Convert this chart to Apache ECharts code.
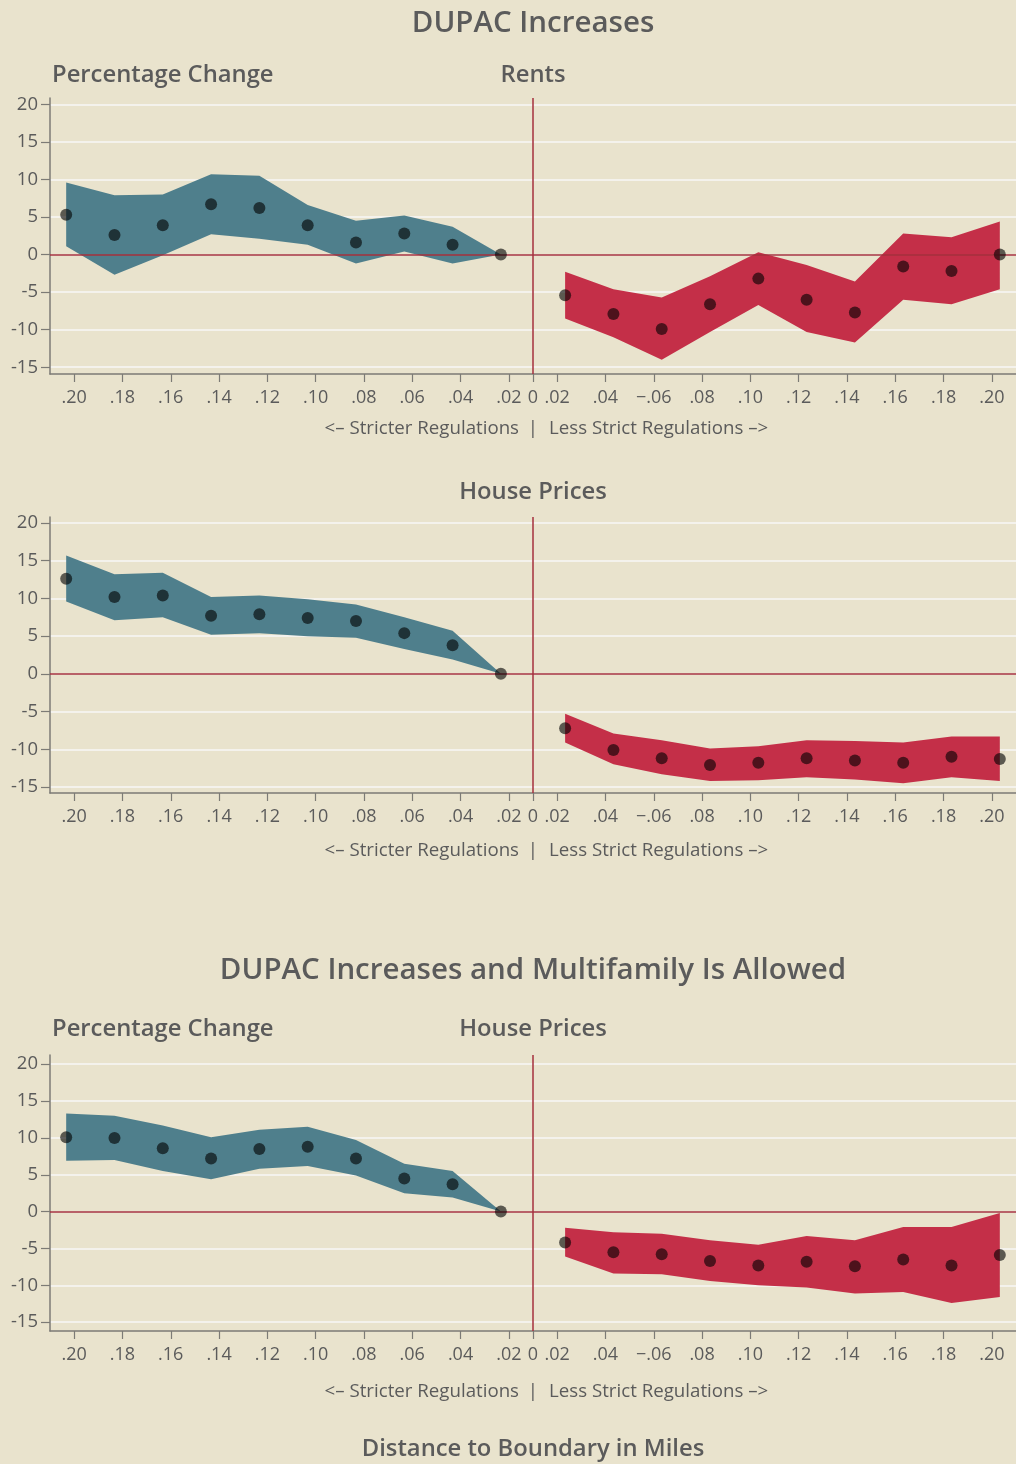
<!DOCTYPE html>
<html>
<head>
<meta charset="utf-8">
<title>DUPAC Increases</title>
<script src="https://cdn.jsdelivr.net/npm/echarts@6/dist/echarts.min.js"></script>
<style>
    html, body { margin: 0; padding: 0; background: #e9e3cd; }
    #chart { width: 1016px; height: 1464px; }
</style>
</head>
<body>
<div id="chart"></div>
<script>
// distance to the boundary (miles), left side = stricter regulations
var leftDist = [-0.1933, -0.1733, -0.1533, -0.1333, -0.1133, -0.0933, -0.0733, -0.0533, -0.0333, -0.0133];
var rightDist = [0.0133, 0.0333, 0.0533, 0.0733, 0.0933, 0.1133, 0.1333, 0.1533, 0.1733, 0.1933];

// x tick positions and their labels
var xTickPos = [-0.19, -0.17, -0.15, -0.13, -0.11, -0.09, -0.07, -0.05, -0.03, -0.01, 0,
    0.01, 0.03, 0.05, 0.07, 0.09, 0.11, 0.13, 0.15, 0.17, 0.19];
var xTickLabels = ['.20', '.18', '.16', '.14', '.12', '.10', '.08', '.06', '.04', '.02', '0',
    '.02', '.04', '\u2212.06', '.08', '.10', '.12', '.14', '.16', '.18', '.20'];
var yTicks = [-15, -10, -5, 0, 5, 10, 15, 20];

// DUPAC increases - rents
var rentsLeftMid = [5.3, 2.6, 3.9, 6.7, 6.2, 3.9, 1.6, 2.8, 1.3, 0];
var rentsLeftHi = [9.6, 7.9, 8.0, 10.7, 10.5, 6.6, 4.5, 5.2, 3.7, 0];
var rentsLeftLo = [1.1, -2.7, -0.1, 2.7, 2.1, 1.3, -1.2, 0.4, -1.2, 0];
var rentsRightMid = [-5.4, -7.9, -9.9, -6.6, -3.2, -6.0, -7.7, -1.6, -2.2, 0];
var rentsRightHi = [-2.3, -4.6, -5.7, -2.9, 0.3, -1.4, -3.6, 2.8, 2.3, 4.4];
var rentsRightLo = [-8.5, -11.0, -14.0, -10.3, -6.7, -10.3, -11.7, -6.0, -6.6, -4.6];

// DUPAC increases - house prices
var pricesLeftMid = [12.6, 10.2, 10.4, 7.7, 7.9, 7.4, 7.0, 5.4, 3.8, 0];
var pricesLeftHi = [15.7, 13.2, 13.4, 10.2, 10.4, 9.9, 9.2, 7.5, 5.7, 0];
var pricesLeftLo = [9.6, 7.1, 7.5, 5.2, 5.4, 5.0, 4.8, 3.3, 1.9, 0];
var pricesRightMid = [-7.2, -10.1, -11.2, -12.1, -11.8, -11.2, -11.5, -11.8, -11.0, -11.3];
var pricesRightHi = [-5.3, -7.9, -8.8, -9.9, -9.6, -8.8, -8.9, -9.1, -8.3, -8.3];
var pricesRightLo = [-9.1, -12.0, -13.3, -14.2, -14.1, -13.7, -14.0, -14.5, -13.7, -14.2];

// DUPAC increases and multifamily allowed - house prices
var mfLeftMid = [10.1, 10.0, 8.6, 7.2, 8.5, 8.8, 7.2, 4.5, 3.7, 0];
var mfLeftHi = [13.3, 13.0, 11.7, 10.1, 11.1, 11.5, 9.7, 6.5, 5.5, 0];
var mfLeftLo = [6.9, 7.0, 5.5, 4.4, 5.8, 6.2, 4.9, 2.5, 1.9, 0];
var mfRightMid = [-4.2, -5.5, -5.8, -6.7, -7.3, -6.8, -7.4, -6.5, -7.3, -5.9];
var mfRightHi = [-2.2, -2.8, -3.0, -3.9, -4.5, -3.3, -3.9, -2.1, -2.1, -0.2];
var mfRightLo = [-6.1, -8.4, -8.5, -9.4, -10.0, -10.3, -11.1, -10.9, -12.4, -11.6];

var panels = [
    {left: [rentsLeftLo, rentsLeftMid, rentsLeftHi], right: [rentsRightLo, rentsRightMid, rentsRightHi]},
    {left: [pricesLeftLo, pricesLeftMid, pricesLeftHi], right: [pricesRightLo, pricesRightMid, pricesRightHi]},
    {left: [mfLeftLo, mfLeftMid, mfLeftHi], right: [mfRightLo, mfRightMid, mfRightHi]}
];

var gridTops = [98, 517, 1055];
var yMins = [-15.9, -15.8, -16.2];
var yMaxs = [20.85, 20.8, 21.25];

var textColor = '#5b5b5b';
var axisColor = '#7c7b76';
var blue = '#4f7f8c';
var red = '#c42f48';
var refRed = '#a5303c';
var font = 'Open Sans';

function xLabel(value) {
    for (var i = 0; i < xTickPos.length; i++) {
        if (Math.abs(xTickPos[i] - value) < 1e-6) return xTickLabels[i];
    }
    return '';
}

// confidence band drawn as one polygon
function bandSeries(idx, xs, lo, hi, color) {
    var rows = [];
    for (var i = 0; i < xs.length; i++) rows.push([xs[i], lo[i], hi[i]]);
    return {
        type: 'custom',
        xAxisIndex: idx,
        yAxisIndex: idx,
        silent: true,
        z: 2,
        clip: false,
        data: rows,
        encode: {x: 0, y: [1, 2]},
        renderItem: function (params, api) {
            if (params.dataIndex !== 0) return null;
            var top = [], bottom = [];
            for (var k = 0; k < xs.length; k++) {
                top.push(api.coord([xs[k], hi[k]]));
                bottom.unshift(api.coord([xs[k], lo[k]]));
            }
            return {type: 'polygon', shape: {points: top.concat(bottom)}, style: {fill: color}};
        }
    };
}

function dotSeries(idx, xs, mid) {
    var rows = [];
    for (var i = 0; i < xs.length; i++) rows.push([xs[i], mid[i]]);
    return {
        type: 'scatter',
        xAxisIndex: idx,
        yAxisIndex: idx,
        silent: true,
        z: 5,
        symbolSize: 12,
        itemStyle: {color: 'rgba(0,0,0,0.76)'},
        data: rows
    };
}

var grids = [], xAxes = [], yAxes = [], series = [];
$each = function (arr, fn) { for (var i = 0; i < arr.length; i++) fn(i, arr[i]); };

$each(panels, function (i, p) {
    grids.push({left: 50, right: 0, top: gridTops[i], height: 276, outerBoundsMode: 'none'});
    xAxes.push({
        gridIndex: i,
        type: 'value',
        min: -0.2,
        max: 0.2,
        axisLine: {show: true, onZero: false, lineStyle: {color: axisColor, width: 1.5}},
        axisTick: {show: true, length: 8, customValues: xTickPos, lineStyle: {color: axisColor, width: 1.2}},
        axisLabel: {customValues: xTickPos, formatter: xLabel, color: textColor, fontSize: 18, fontFamily: font, margin: 15},
        splitLine: {show: false}
    });
    yAxes.push({
        gridIndex: i,
        type: 'value',
        min: yMins[i],
        max: yMaxs[i],
        axisLine: {show: true, onZero: false, lineStyle: {color: axisColor, width: 1.5}},
        axisTick: {show: true, length: 9, customValues: yTicks, lineStyle: {color: axisColor, width: 1.2}},
        axisLabel: {customValues: yTicks, color: textColor, fontSize: 18.5, fontFamily: font, margin: 12},
        splitLine: {show: true, lineStyle: {color: '#f4f2ec', width: 1.8}}
    });
    series.push(bandSeries(i, leftDist, p.left[0], p.left[2], blue));
    series.push(bandSeries(i, rightDist, p.right[0], p.right[2], red));
    // reference lines at 0
    series.push({
        type: 'scatter',
        xAxisIndex: i,
        yAxisIndex: i,
        z: 4,
        data: [],
        markLine: {
            silent: true,
            symbol: 'none',
            animation: false,
            label: {show: false},
            lineStyle: {color: refRed, width: 1.5, type: 'solid'},
            data: [{yAxis: 0}, {xAxis: 0}]
        }
    });
    series.push(dotSeries(i, leftDist, p.left[1]));
    series.push(dotSeries(i, rightDist, p.right[1]));
});

function txt(str, x, y, size, align, weight) {
    return {
        type: 'text',
        x: x,
        y: y,
        silent: true,
        style: {
            text: str,
            fill: textColor,
            fontSize: size,
            fontWeight: weight || 'normal',
            fontFamily: font,
            align: align || 'center',
            verticalAlign: 'middle'
        }
    };
}

var graphics = [
    txt('DUPAC Increases', 533, 24, 29.5, 'center', 600),
    txt('Percentage Change', 52, 75, 23.8, 'left', 600),
    txt('Rents', 533, 75, 23.8, 'center', 600),
    txt('House Prices', 533, 492, 23.8, 'center', 600),
    txt('DUPAC Increases and Multifamily Is Allowed', 533, 971, 29.5, 'center', 600),
    txt('Percentage Change', 52, 1029, 23.8, 'left', 600),
    txt('House Prices', 533, 1029, 23.8, 'center', 600),
    txt('Distance to Boundary in Miles', 533, 1449, 23.8, 'center', 600)
];
// direction note under each panel
$each([429, 851, 1392], function (i, y) {
    graphics.push(txt('<\u2013 Stricter Regulations', 519, y, 18.7, 'right'));
    graphics.push(txt('|', 533, y, 18.7));
    graphics.push(txt('Less Strict Regulations \u2013>', 549, y, 18.7, 'left'));
});

var chart = echarts.init(document.getElementById('chart'));
chart.setOption({
    backgroundColor: '#e9e3cd',
    animation: false,
    grid: grids,
    xAxis: xAxes,
    yAxis: yAxes,
    series: series,
    graphic: graphics
});
</script>
</body>
</html>
